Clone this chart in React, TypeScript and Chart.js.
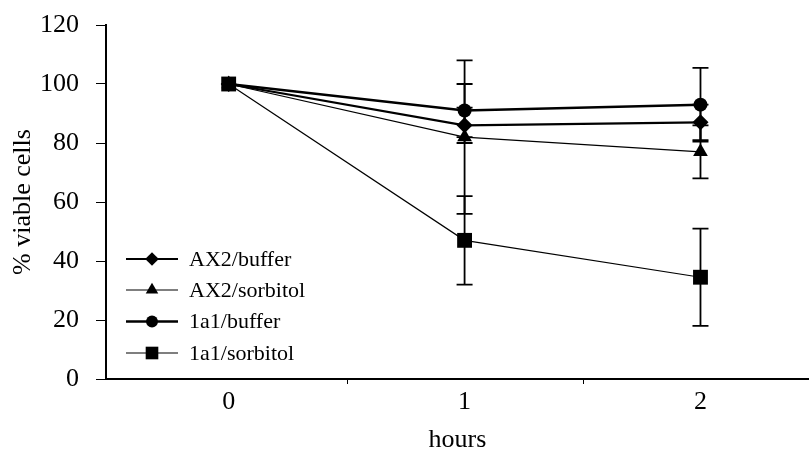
import React, { useEffect, useRef } from 'react';
import { Chart, registerables } from 'chart.js';
import { drawPoint } from 'chart.js/helpers';

Chart.register(...registerables);

// ---- data ----
const hours = [0, 1, 2];
const xTickLabels = ['0', '1', '2'];
const xTickMarks = [0.5, 1.5];
const seriesNames = ['AX2/buffer', 'AX2/sorbitol', '1a1/buffer', '1a1/sorbitol'];
const ax2Buffer = [100, 86, 87];
const ax2BufferErr = [0, 6, 6];
const ax2Sorbitol = [100, 82, 77];
const ax2SorbitolErr = [0, 26, 9];
const a1Buffer = [100, 91, 93];
const a1BufferErr = [0, 9, 12.5];
const a1Sorbitol = [100, 47, 34.5];
const a1SorbitolErr = [0, 15, 16.5];
const yMin = 0;
const yMax = 120;
const yStep = 20;

const FONT = 'Liberation Serif';

const seriesValues = [ax2Buffer, ax2Sorbitol, a1Buffer, a1Sorbitol];
const seriesErrors = [ax2BufferErr, ax2SorbitolErr, a1BufferErr, a1SorbitolErr];
const seriesStyles = [
  { pointStyle: 'rectRot', radius: 8, lineWidth: 2.2 },
  { pointStyle: 'triangle', radius: 8.5, lineWidth: 1.2 },
  { pointStyle: 'circle', radius: 7, lineWidth: 2.5 },
  { pointStyle: 'rect', radius: 10.5, lineWidth: 1.2 },
];
const drawOrder = [3, 2, 1, 0];

const errorBarPlugin = {
  id: 'errorBars',
  beforeDatasetsDraw(chart: any) {
    const { ctx, scales } = chart;
    const xs = scales.x;
    const ys = scales.y;
    ctx.save();
    ctx.strokeStyle = '#000';
    ctx.lineWidth = 1.8;
    seriesValues.forEach((vals, si) => {
      vals.forEach((v, i) => {
        const e = seriesErrors[si][i];
        if (!e) return;
        const x = xs.getPixelForValue(hours[i]);
        const yt = ys.getPixelForValue(v + e);
        const yb = ys.getPixelForValue(v - e);
        ctx.beginPath();
        ctx.moveTo(x, yt);
        ctx.lineTo(x, yb);
        ctx.moveTo(x - 8, yt);
        ctx.lineTo(x + 8, yt);
        ctx.moveTo(x - 8, yb);
        ctx.lineTo(x + 8, yb);
        ctx.stroke();
      });
    });
    ctx.restore();
  },
};

const extrasPlugin = {
  id: 'extras',
  afterDraw(chart: any) {
    const { ctx, scales, chartArea } = chart;
    const xs = scales.x;
    ctx.save();
    // x-axis tick marks between categories
    ctx.strokeStyle = '#000';
    ctx.lineWidth = 1;
    xTickMarks.forEach((t) => {
      const x = Math.round(xs.getPixelForValue(t)) + 0.5;
      ctx.beginPath();
      ctx.moveTo(x, chartArea.bottom);
      ctx.lineTo(x, chartArea.bottom + 5);
      ctx.stroke();
    });
    // legend
    const lx0 = chartArea.left + 20;
    const lx1 = chartArea.left + 72;
    const mx = chartArea.left + 46;
    const tx = chartArea.left + 83;
    const rowY = [259, 290, 321.5, 353];
    ctx.font = `22px "${FONT}"`;
    ctx.textBaseline = 'middle';
    ctx.textAlign = 'left';
    seriesNames.forEach((name, i) => {
      const st = seriesStyles[i];
      const y = rowY[i];
      ctx.strokeStyle = '#000';
      ctx.lineWidth = st.lineWidth;
      ctx.beginPath();
      ctx.moveTo(lx0, y);
      ctx.lineTo(lx1, y);
      ctx.stroke();
      ctx.fillStyle = '#000';
      drawPoint(ctx, { pointStyle: st.pointStyle as any, radius: st.radius * 0.85, rotation: 0, borderWidth: 0 } as any, mx, y);
      ctx.fillStyle = '#000';
      ctx.fillText(name, tx, y + 1);
    });
    ctx.restore();
  },
};

export default function App() {
  const ref = useRef<HTMLCanvasElement>(null);
  useEffect(() => {
    if (!ref.current) return;
    const chart = new Chart(ref.current, {
      type: 'line',
      data: {
        datasets: seriesNames.map((name, si) => ({
          label: name,
          data: seriesValues[si].map((v, i) => ({ x: hours[i], y: v })),
          borderColor: '#000',
          backgroundColor: '#000',
          borderWidth: seriesStyles[si].lineWidth,
          pointStyle: seriesStyles[si].pointStyle as any,
          pointRadius: seriesStyles[si].radius,
          pointBorderWidth: 0,
          pointBackgroundColor: '#000',
          tension: 0,
          fill: false,
          clip: false,
          order: drawOrder[si],
        })),
      },
      options: {
        animation: false,
        responsive: true,
        maintainAspectRatio: false,
        layout: { autoPadding: false, padding: { top: 25, right: 0, bottom: 0, left: 0 } },
        plugins: { legend: { display: false }, tooltip: { enabled: false } },
        scales: {
          x: {
            type: 'linear',
            min: -0.52,
            max: 2.46,
            afterBuildTicks: (scale: any) => {
              scale.ticks = hours.map((v) => ({ value: v }));
            },
            afterFit: (scale: any) => {
              scale.height = 72;
              scale.paddingLeft = 0;
              scale.paddingRight = 0;
            },
            ticks: {
              color: '#000',
              font: { family: FONT, size: 26 },
              padding: 8,
              maxRotation: 0,
              callback: (v: any) => xTickLabels[hours.indexOf(Number(v))] ?? '',
            },
            grid: { display: false, drawTicks: false, drawOnChartArea: false },
            border: { display: true, color: '#000', width: 2 },
            title: {
              display: true,
              text: 'hours',
              color: '#000',
              font: { family: FONT, size: 26 },
              padding: { top: 0, bottom: -5 },
            },
          },
          y: {
            type: 'linear',
            min: yMin,
            max: yMax,
            afterFit: (scale: any) => {
              scale.width = 106;
              scale.paddingTop = 0;
              scale.paddingBottom = 0;
            },
            ticks: {
              stepSize: yStep,
              color: '#000',
              font: { family: FONT, size: 26 },
              padding: 17,
            },
            grid: {
              display: true,
              drawOnChartArea: false,
              drawTicks: true,
              tickLength: 10,
              color: '#000',
              lineWidth: 1,
            },
            border: { display: true, color: '#000', width: 2 },
            title: {
              display: true,
              text: '% viable cells',
              color: '#000',
              font: { family: FONT, size: 26 },
              padding: { top: 8, bottom: 0 },
            },
          },
        },
      },
      plugins: [errorBarPlugin, extrasPlugin],
    });
    return () => chart.destroy();
  }, []);
  return (
    <div style={{ position: 'absolute', left: 0, top: 0, width: 809, height: 451, background: '#fff' }}>
      <canvas ref={ref} />
    </div>
  );
}
